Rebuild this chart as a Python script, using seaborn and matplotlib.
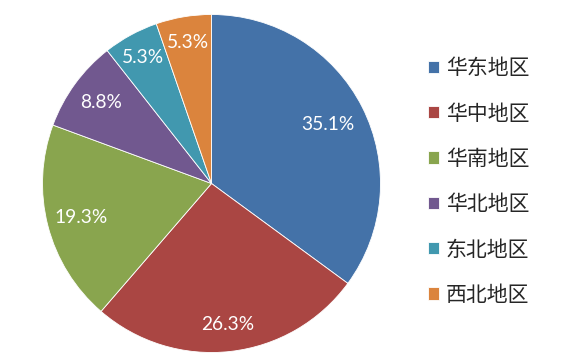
import matplotlib
matplotlib.use("Agg")
import matplotlib.pyplot as plt
import seaborn as sns

# data
regions = ["华东地区", "华中地区", "华南地区", "华北地区", "东北地区", "西北地区"]
shares = [35.1, 26.3, 19.3, 8.8, 5.3, 5.3]
colors = ["#4472A8", "#AA4643", "#89A54E", "#71588F", "#4198AF", "#DB843D"]
# how far out each percent label sits (fraction of radius), like Excel's best fit
label_r = [0.77, 0.84, 0.80, 0.81, 0.85, 0.845]

sns.set_theme(style="white")
plt.rcParams["font.family"] = ["Lato", "Noto Sans CJK SC", "DejaVu Sans"]

fig = plt.figure(figsize=(5.64, 3.6), dpi=100)
ax = fig.add_axes([42.5 / 564, 7.5 / 360, 338 / 564, 338 / 360])

wedges, texts, autotexts = ax.pie(
    shares,
    colors=sns.color_palette(colors),
    startangle=90,
    counterclock=False,
    autopct="%.1f%%",
    pctdistance=0.8,
    wedgeprops=dict(edgecolor="white", linewidth=0.6),
    textprops=dict(color="white", fontsize=13.8),
)
for t, r in zip(autotexts, label_r):
    x, y = t.get_position()
    t.set_position((x / 0.8 * r, y / 0.8 * r))

ax.set_xlim(-1, 1)
ax.set_ylim(-1, 1)
ax.set_aspect("equal")

fig.legend(
    wedges, regions,
    loc="center left",
    bbox_to_anchor=(428 / 564, 178.5 / 360),
    frameon=False,
    prop={"family": ["Noto Sans CJK SC"], "size": 15},
    handlelength=0.55, handleheight=0.55, handletextpad=0.3,
    labelspacing=1.12, borderpad=0, borderaxespad=0,
)

fig.savefig("out.png", dpi=100, facecolor="white")
